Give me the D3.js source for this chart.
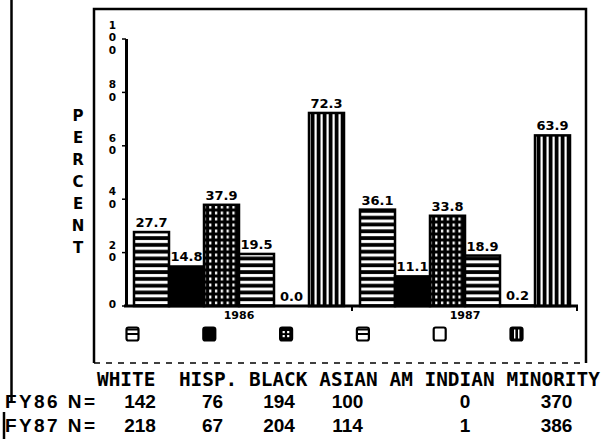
<!DOCTYPE html>
<html><head><meta charset="utf-8">
<script src="https://cdn.jsdelivr.net/npm/d3@7"></script>
<style>body{margin:0;background:#fff}svg{display:block}</style>
</head><body><svg id="c" width="609" height="439"></svg>
<script>
// ---- data ----
const categories = ["WHITE", "HISP.", "BLACK", "ASIAN", "AM INDIAN", "MINORITY"];
const years = ["1986", "1987"];
const pct1986 = [27.7, 14.8, 37.9, 19.5, 0.0, 72.3];
const pct1987 = [36.1, 11.1, 33.8, 18.9, 0.2, 63.9];
const n1986 = [142, 76, 194, 100, 0, 370];
const n1987 = [218, 67, 204, 114, 1, 386];
const yTicks = [0, 20, 40, 60, 80, 100];
const rowLabels = ["FY86 N=", "FY87 N="];
const yTitle = "PERCENT";

// ---- layout ----
const svg = d3.select("#c");
const y = d3.scaleLinear().domain([0, 100]).range([306, 39]);
const x0 = d3.scaleBand().domain(years).range([126, 578]);
const x1 = d3.scaleBand().domain(categories).range([8, 218]);
const fills = ["url(#hs)", "#000", "url(#dots)", "url(#hs)", "#fff", "url(#vs)"];

// patterns
const defs = svg.append("defs");
const hs = defs.append("pattern").attr("id", "hs").attr("patternUnits", "userSpaceOnUse").attr("width", 8).attr("height", 6.8);
hs.append("rect").attr("width", 8).attr("height", 6.8).attr("fill", "#000");
hs.append("rect").attr("y", 2).attr("width", 8).attr("height", 3).attr("fill", "#fff");
const vs = defs.append("pattern").attr("id", "vs").attr("patternUnits", "userSpaceOnUse").attr("width", 6).attr("height", 8);
vs.append("rect").attr("width", 6).attr("height", 8).attr("fill", "#000");
vs.append("rect").attr("x", 2.5).attr("width", 2.2).attr("height", 8).attr("fill", "#fff");
const dots = defs.append("pattern").attr("id", "dots").attr("patternUnits", "userSpaceOnUse").attr("width", 5.8).attr("height", 6);
dots.append("rect").attr("width", 5.8).attr("height", 6).attr("fill", "#000");
dots.append("rect").attr("x", 2).attr("y", 1.5).attr("width", 2.2).attr("height", 3).attr("fill", "#fff");

// scan lines at left
svg.append("line").attr("x1", 11.5).attr("x2", 11.5).attr("y1", 0).attr("y2", 402).attr("stroke", "#000").attr("stroke-width", 2.5);
svg.append("line").attr("x1", 4).attr("x2", 4).attr("y1", 412).attr("y2", 439).attr("stroke", "#000").attr("stroke-width", 2.5);

// outer frame
const fr = {l: 94, t: 9, r: 586, b: 363};
svg.append("path").attr("d", `M${fr.l},${fr.b}V${fr.t}H${fr.r}V${fr.b}`).attr("fill", "none").attr("stroke", "#000").attr("stroke-width", 2.5);
svg.append("line").attr("x1", fr.l).attr("x2", fr.r).attr("y1", fr.b).attr("y2", fr.b)
  .attr("stroke", "#000").attr("stroke-width", 1.5).attr("stroke-dasharray", "6,6");

// bars
const series = [pct1986, pct1987];
years.forEach((yr, yi) => {
  const g = svg.append("g").attr("transform", `translate(${x0(yr)},0)`);
  g.selectAll("rect").data(series[yi]).join("rect")
    .attr("x", (d, i) => x1(categories[i]))
    .attr("y", d => y(d))
    .attr("width", x1.bandwidth())
    .attr("height", d => y(0) - y(d))
    .attr("fill", (d, i) => fills[i])
    .attr("stroke", "#000").attr("stroke-width", 2.5);
  g.selectAll("text.v").data(series[yi]).join("text").attr("class", "v")
    .attr("x", (d, i) => x1(categories[i]) + x1.bandwidth() / 2)
    .attr("y", d => y(d) - 5)
    .attr("text-anchor", "middle")
    .attr("font-family", "DejaVu Sans").attr("font-weight", "bold").attr("font-size", 13)
    .text(d => d.toFixed(1));
  svg.append("text").attr("x", x0(yr) + x0.bandwidth() / 2).attr("y", 319)
    .attr("text-anchor", "middle").attr("font-family", "DejaVu Sans").attr("font-weight", "bold").attr("font-size", 11)
    .text(yr);
});

// y axis
svg.append("line").attr("x1", 126.5).attr("x2", 126.5).attr("y1", y(100)).attr("y2", y(0)).attr("stroke", "#000").attr("stroke-width", 3);
const step = 12.5;
yTicks.forEach(t => {
  svg.append("line").attr("x1", 122).attr("x2", 126).attr("y1", y(t)).attr("y2", y(t)).attr("stroke", "#000").attr("stroke-width", 1.5);
  const digs = String(t).split("");
  const yc = y(t) - 1.5;
  const tx = svg.append("text").attr("x", 112.5).attr("y", yc - (digs.length - 1) / 2 * step)
    .attr("text-anchor", "middle")
    .attr("font-family", "DejaVu Sans").attr("font-weight", "bold").attr("font-size", 10.5);
  digs.forEach((c, i) => {
    tx.append("tspan").attr("x", 112.5).attr("dy", i === 0 ? "0.36em" : step).text(c);
  });
});
// y title, vertical letters (one text element)
const tt = svg.append("text").attr("x", 78).attr("y", 116).attr("text-anchor", "middle")
  .attr("font-family", "DejaVu Sans").attr("font-weight", "bold").attr("font-size", 15);
yTitle.split("").forEach((c, i) => {
  tt.append("tspan").attr("x", 78).attr("dy", i === 0 ? "0.36em" : 22).text(c);
});

// x axis
svg.append("line").attr("x1", 124).attr("x2", 578).attr("y1", y(0)).attr("y2", y(0)).attr("stroke", "#000").attr("stroke-width", 3);
[x0("1987"), 577].forEach(xx => {
  svg.append("line").attr("x1", xx).attr("x2", xx).attr("y1", y(0)).attr("y2", y(0) + 5).attr("stroke", "#000").attr("stroke-width", 2);
});

// legend icons
const iconY = 327.5, iw = 12, ih = 13;
categories.forEach((c, i) => {
  const cx = 132.5 + i * 76.8;
  const g = svg.append("g").attr("transform", `translate(${cx - iw / 2},${iconY})`);
  const dark = (i === 1 || i === 2 || i === 5);
  g.append("rect").attr("width", iw).attr("height", ih).attr("rx", 2)
    .attr("fill", dark ? "#000" : "#fff").attr("stroke", "#000").attr("stroke-width", 2.2);
  if (i === 0 || i === 3) {
    g.append("line").attr("x1", 0).attr("x2", iw).attr("y1", ih / 2).attr("y2", ih / 2).attr("stroke", "#000").attr("stroke-width", 2);
    g.append("line").attr("x1", 0).attr("x2", iw).attr("y1", 2).attr("y2", 2).attr("stroke", "#000").attr("stroke-width", 2);
  }
  if (i === 2) {
    [[2.5, 3.5], [7, 3.5], [2.5, 7.5], [7, 7.5]].forEach(p => g.append("rect").attr("x", p[0]).attr("y", p[1]).attr("width", 2.2).attr("height", 2.2).attr("fill", "#fff"));
  }
  if (i === 5) {
    [3.5, 7.5].forEach(px => g.append("rect").attr("x", px).attr("y", 2).attr("width", 1.4).attr("height", 9).attr("fill", "#fff"));
  }
});

// table header (monospace grid)
const cw = 11.7, hx = 97, seps = [2, 1, 1, 1, 1];
let idx = 0;
categories.forEach((c, i) => {
  svg.append("text").attr("x", hx + idx * cw).attr("y", 386)
    .attr("font-family", "DejaVu Sans Mono").attr("font-weight", "bold").attr("font-size", 19.4)
    .text(c);
  idx += c.length + (seps[i] || 0);
});

// N rows
const nColCenters = [140, 212.5, 279, 347.5, 465, 556.5];
const rowBase = [408, 432];
[n1986, n1987].forEach((row, ri) => {
  svg.append("text").attr("x", 5).attr("y", rowBase[ri])
    .attr("font-family", "Liberation Sans").attr("font-weight", "bold").attr("font-size", 19)
    .attr("textLength", 90).attr("lengthAdjust", "spacing").text(rowLabels[ri]);
  row.forEach((v, i) => {
    svg.append("text").attr("x", nColCenters[i]).attr("y", rowBase[ri]).attr("text-anchor", "middle")
      .attr("font-family", "Liberation Sans").attr("font-weight", "bold").attr("font-size", 19)
      .text(v);
  });
});
</script></body></html>
